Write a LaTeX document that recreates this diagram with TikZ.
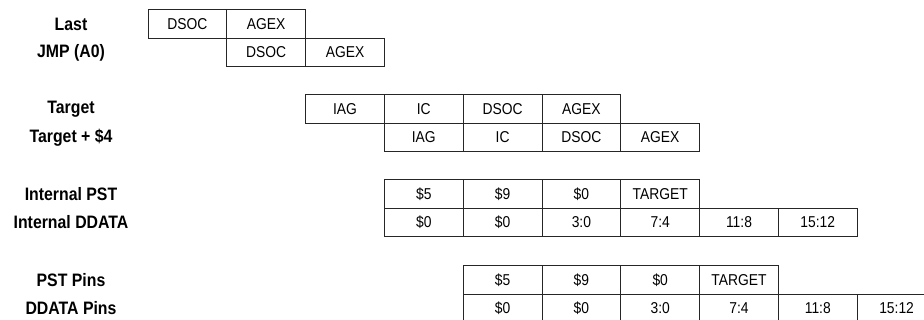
\documentclass[tikz,border=0pt]{standalone}
\usepackage{fontspec}
\setmainfont{Liberation Sans}[FakeStretch=0.88]
\newcommand{\cellrow}[4]{
  \foreach \x [count=\i] in {#4}{
    \pgfmathsetmacro{\cx}{148+78.8*(#2+\i-1)+39.4}
    \node[cell] (#1-\i) at (\cx,#3) {\x};
  }
}

\begin{document}
\begin{tikzpicture}[x=0.75pt,y=-0.75pt,
    cell/.style={draw=black!85,line width=0.75pt,minimum width=59.1pt,minimum height=21.4pt,
      inner sep=0pt,outer sep=0pt,font=\fontsize{11.8}{13}\selectfont},
    rowlabel/.style={font=\fontsize{13.5}{15}\selectfont\bfseries,inner sep=0pt}]
      \useasboundingbox (0,0) rectangle (924,320);
      \clip (0,0) rectangle (924,320);
      \node[rowlabel] (l-last) at (71,24) {Last};
      \node[rowlabel] (l-jmp) at (71,52.5) {JMP (A0)};
      \node[rowlabel] (l-target) at (71,109) {Target};
      \node[rowlabel] (l-target4) at (71,137.5) {Target + \$4};
      \node[rowlabel] (l-ipst) at (71,194) {Internal PST};
      \node[rowlabel] (l-iddata) at (71,222.5) {Internal DDATA};
      \node[rowlabel] (l-ppst) at (71,280) {PST Pins};
      \node[rowlabel] (l-pddata) at (71,308.5) {DDATA Pins};
      \cellrow{last}{0}{24}{DSOC,AGEX}
      \cellrow{jmp}{1}{52.5}{DSOC,AGEX}
      \cellrow{target}{2}{109}{IAG,IC,DSOC,AGEX}
      \cellrow{target4}{3}{137.5}{IAG,IC,DSOC,AGEX}
      \cellrow{ipst}{3}{194}{\$5,\$9,\$0,TARGET}
      \cellrow{iddata}{3}{222.5}{\$0,\$0,3:0,7:4,11:8,15:12}
      \cellrow{ppst}{4}{280}{\$5,\$9,\$0,TARGET}
      \cellrow{pddata}{4}{308.5}{\$0,\$0,3:0,7:4,11:8,15:12}
    \end{tikzpicture}
\end{document}
